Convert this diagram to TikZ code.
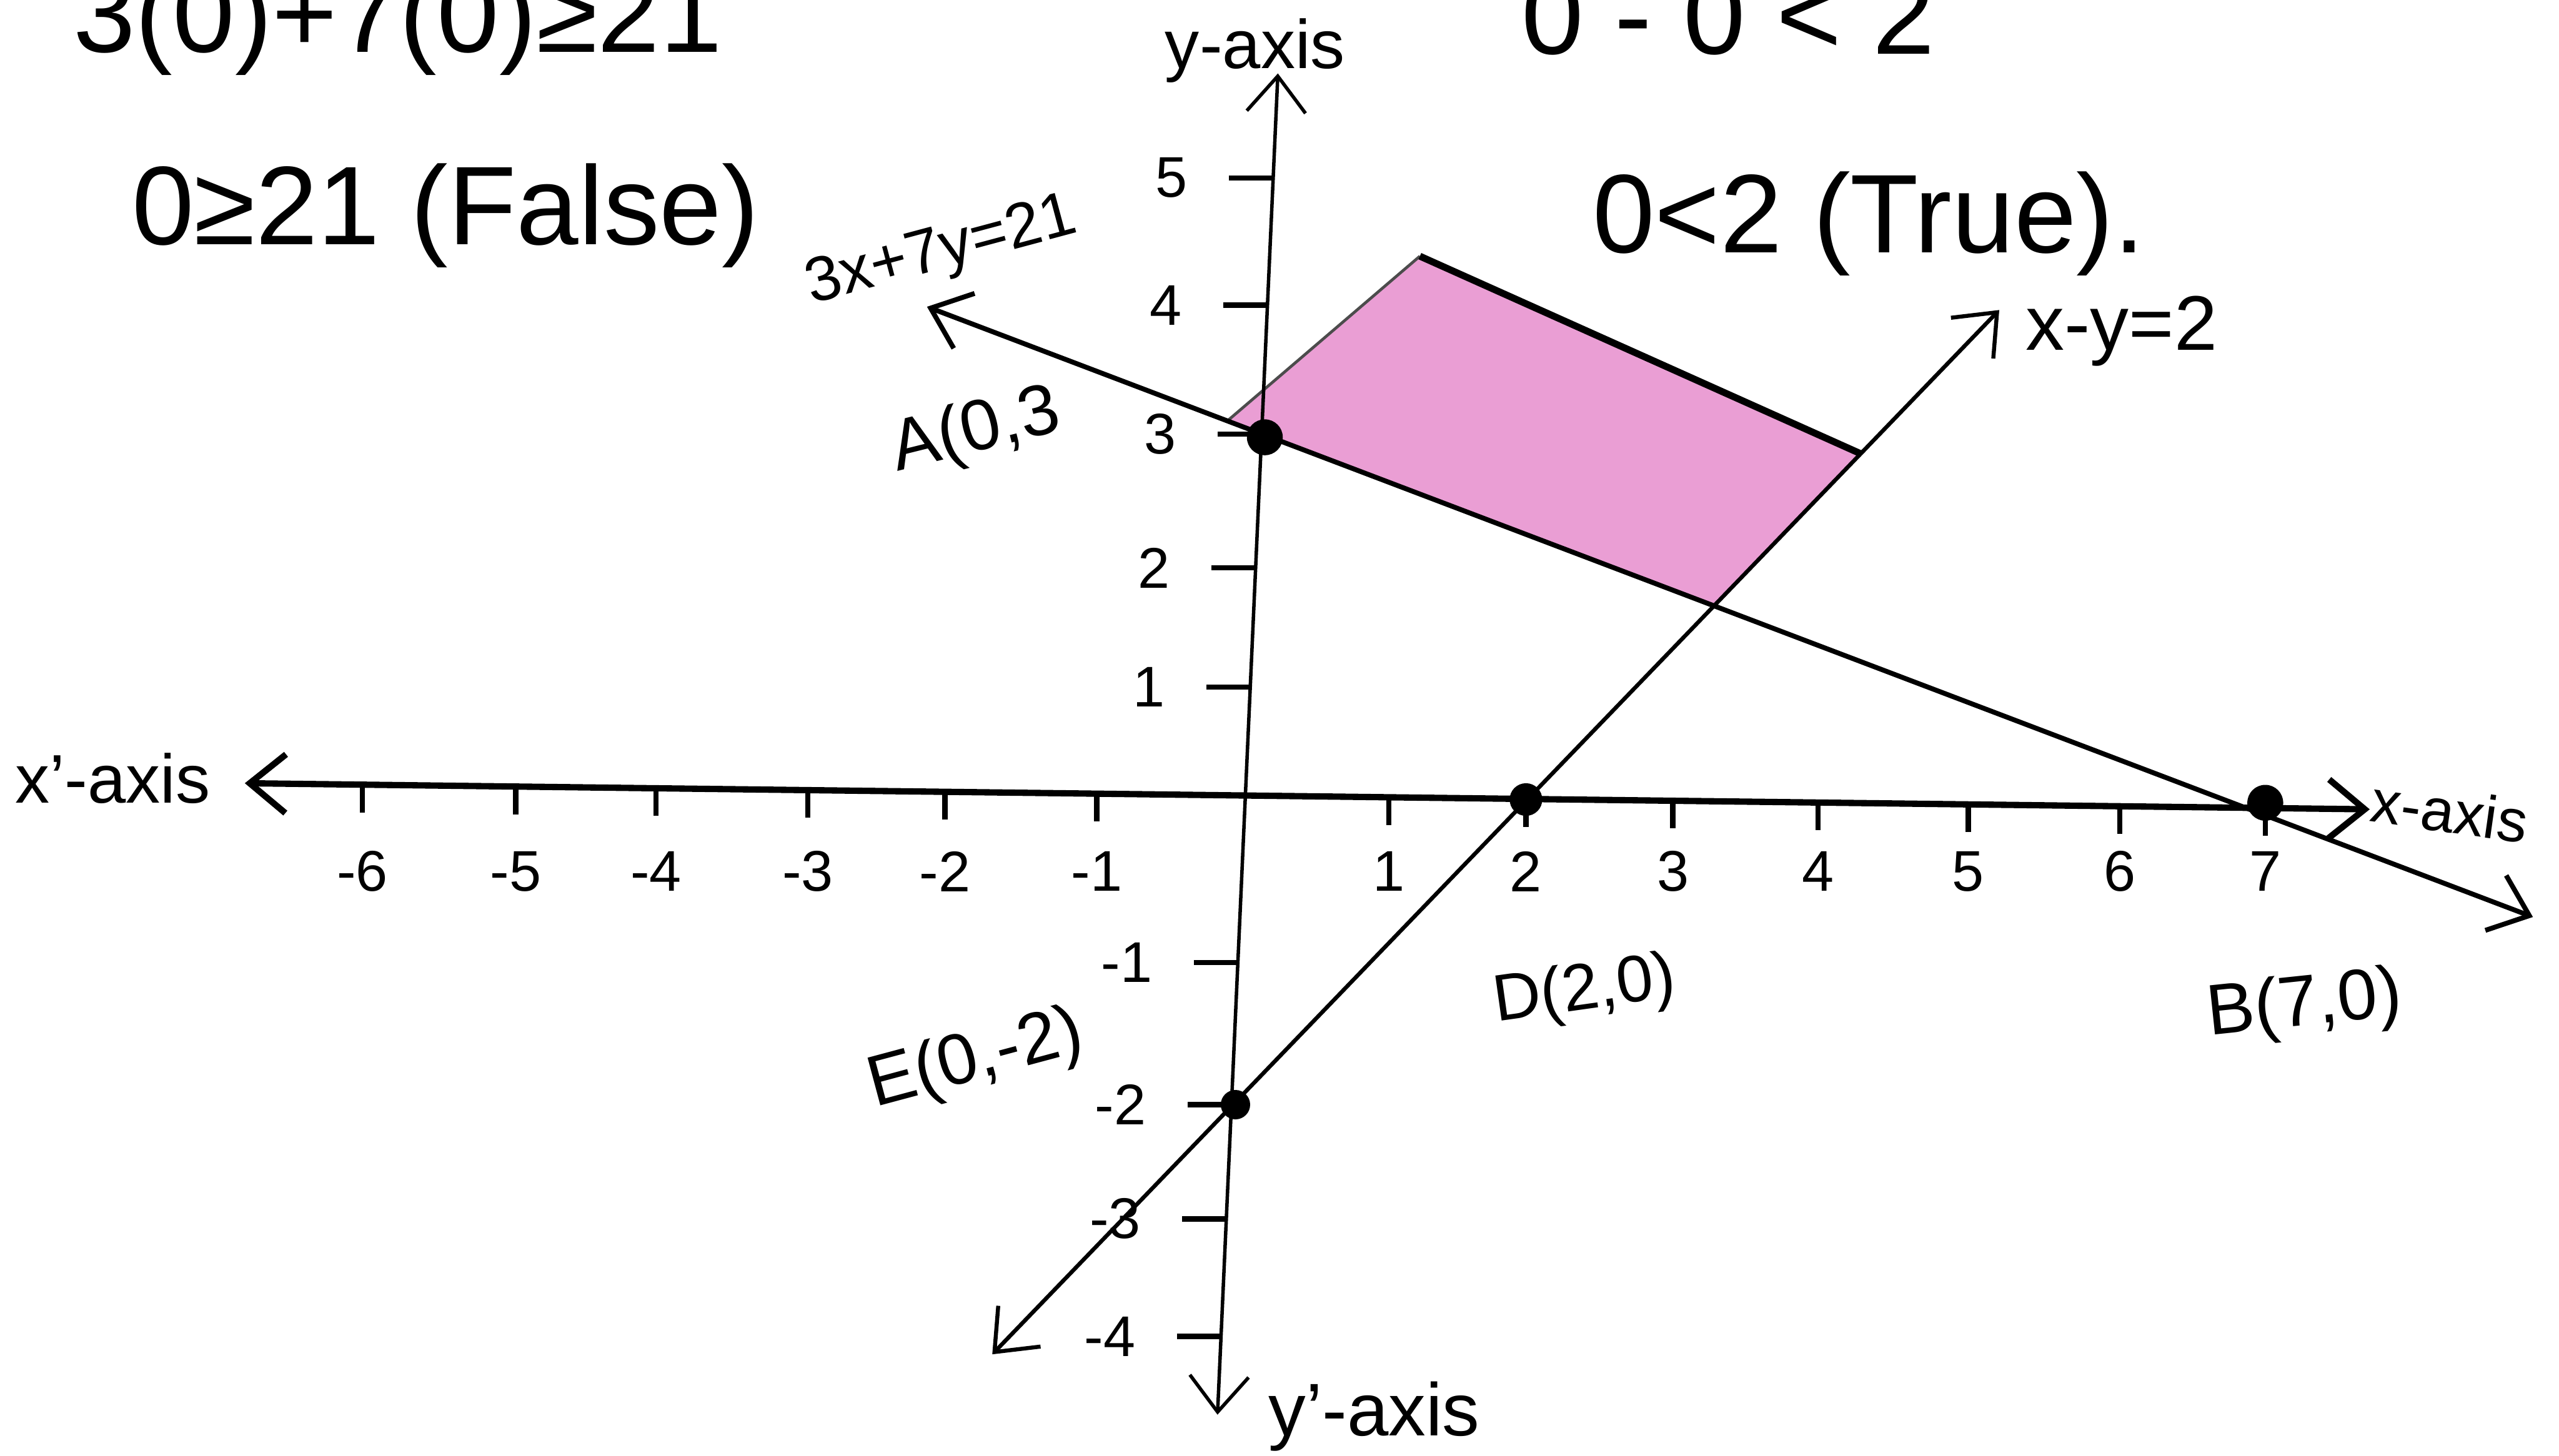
\documentclass[tikz,border=0pt]{standalone}
\usepackage{fontspec}
\setmainfont{Liberation Sans}
\usetikzlibrary{arrows.meta}
\usepackage{xcolor}
\definecolor{region_pink}{RGB}{234,158,212}

\begin{document}
\begin{tikzpicture}[x=1cm, y=-1cm, font=\normalsize,
    barb/.tip={Straight Barb[length=2.2mm, width=3.6mm]},
    axisx/.style={line width=1.1pt},
    axisy/.style={line width=0.6pt},
    graphline/.style={line width=0.85pt},
    tickmark/.style={line width=0.9pt},
    ticklabel/.style={font=\fontsize{10}{12}\selectfont},
    axislabel/.style={font=\fontsize{12}{14}\selectfont},
    ptlabel/.style={font=\fontsize{12.5}{15}\selectfont},
    bigtext/.style={font=\fontsize{19.5}{23}\selectfont},
    dot/.style={circle, fill=black, inner sep=0pt, minimum size=2.2mm}]

      % 0. Marco de la figura
      \clip (0,0) rectangle (15.68,8.92);

      % 1. Region sombreada (debajo de todo)
      \coordinate (rL) at (7.52,2.58);
      \coordinate (rT) at (8.70,1.57);
      \coordinate (rR) at (11.40,2.78);
      \coordinate (rB) at (10.50,3.71);
      \fill[region_pink] (rL) -- (rT) -- (rR) -- (rB) -- cycle;
      \draw[line width=0.5pt, black!70] (rL) -- (rT);
      \draw[line width=1.2pt] (rT) -- (rR);

      % 2. Ejes
      \coordinate (xl) at (1.50,4.80);
      \coordinate (xr) at (14.52,4.96);
      \coordinate (yt) at (7.83,0.45);
      \coordinate (yb) at (7.46,8.67);
      \draw[axisx, barb-barb] (xl) -- (xr);
      \draw[axisy, barb-barb] (yb) -- (yt);

      % marcas del eje x
      \foreach \px/\lab [count=\i] in {2.22/-6, 3.16/-5, 4.02/-4, 4.95/-3, 5.79/-2, 6.72/-1,
                                       8.51/1, 9.35/2, 10.25/3, 11.14/4, 12.06/5, 12.99/6, 13.88/7}{
        \pgfmathsetmacro\ya{4.80+0.0123*(\px-1.50)}
        \draw[tickmark] (\px,\ya) -- (\px,\ya+0.17);
        \node[ticklabel] (xlab\i) at (\px,5.34) {\lab};
      }

      % marcas del eje y
      \foreach \py/\lab [count=\i] in {1.09/5, 1.87/4, 2.66/3, 3.48/2, 4.21/1,
                                       5.90/-1, 6.77/-2, 7.47/-3, 8.19/-4}{
        \pgfmathsetmacro\xa{7.83-0.045*(\py-0.45)}
        \draw[tickmark] (\xa,\py) -- (\xa-0.27,\py);
        \node[ticklabel, anchor=east] (ylab\i) at (\xa-0.40,\py) {\lab};
      }

      % 3. Rectas
      % 3x+7y=21
      \coordinate (lnA1) at (5.68,1.88);
      \coordinate (lnA2) at (15.52,5.62);
      \draw[graphline, barb-barb] (lnA1) -- (lnA2);
      % x-y=2
      \coordinate (lnD1) at (6.08,8.30);
      \coordinate (lnD2) at (12.25,1.90);
      \draw[graphline, line width=0.7pt, barb-barb] (lnD1) -- (lnD2);

      % 4. Puntos
      \node[dot] (ptA) at (7.75,2.68) {};
      \node[dot] (ptB) at (13.88,4.92) {};
      \node[dot, minimum size=2.0mm] (ptD) at (9.35,4.90) {};
      \node[dot, minimum size=1.8mm] (ptE) at (7.57,6.77) {};

      % 5. Textos
      \node[axislabel] (ylbl) at (7.69,0.31) {y-axis};
      \node[axislabel, font=\fontsize{13}{15}\selectfont] (yplbl) at (8.42,8.68) {y'-axis};
      \node[axislabel] (xplbl) at (0.69,4.77) {x'-axis};
      \node[axislabel, font=\fontsize{10.5}{13}\selectfont, rotate=-8] (xlbl) at (15.01,4.97) {x-axis};

      \node[ptlabel, font=\fontsize{11}{13}\selectfont, rotate=15] (eqA) at (5.77,1.55) {3x+7y=21};
      \node[ptlabel, font=\fontsize{13.5}{16}\selectfont] (eqD) at (13.00,2.03) {x-y=2};

      \node[ptlabel, rotate=14] (labA) at (5.98,2.65) {A(0,3};
      \node[ptlabel, font=\fontsize{12.5}{15}\selectfont, rotate=15] (labE) at (5.98,6.50) {E(0,-2)};
      \node[ptlabel, font=\fontsize{11.5}{14}\selectfont, rotate=8] (labD) at (9.71,6.08) {D(2,0)};
      \node[ptlabel, rotate=6] (labB) at (14.12,6.17) {B(7,0)};

      \node[bigtext] (falsetxt) at (2.73,1.32) {0≥21 (False)};
      \node[bigtext] (truetxt) at (11.45,1.37) {0<2 (True).};
      \node[bigtext, anchor=base east] (topleft) at (4.55,0.32) {3(0)+7(0)≥21};
      \node[bigtext, anchor=base west] (topright) at (9.20,0.33) {0 - 0 < 2};

\end{tikzpicture}
\end{document}
